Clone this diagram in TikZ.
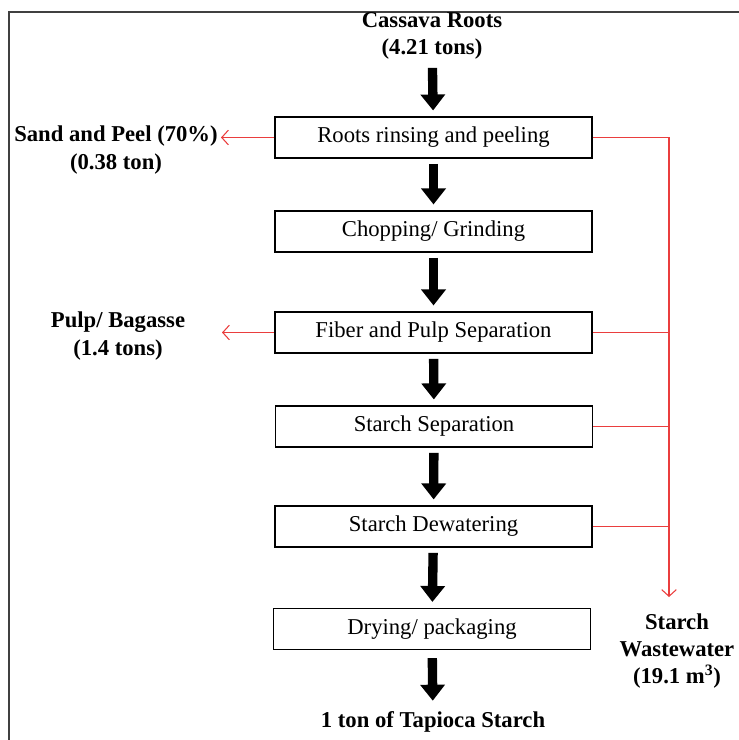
\documentclass[tikz,border=0pt]{standalone}
\usepackage{fontspec}
\setmainfont{Liberation Serif}
\usetikzlibrary{arrows.meta}

\definecolor{wasteRed}{RGB}{234,62,62}

\begin{document}
\begin{tikzpicture}[x=0.75pt,y=0.75pt,yscale=-1,xscale=1,
  stage/.style={draw, line width=1.1pt, minimum width=238pt, minimum height=30.5pt, inner sep=0pt, font=\fontsize{17}{20}\selectfont},
  outtext/.style={align=center, inner sep=0pt, font=\fontsize{17}{20.5}\selectfont\bfseries},
  flow/.style={line width=7pt, -{Triangle[width=18pt,length=12pt]}, shorten <=4pt, shorten >=4.5pt},
  waste/.style={wasteRed, line width=0.8pt},
  wastearrow/.style={waste, -{Straight Barb[length=5pt,width=11pt]}}
]
\useasboundingbox (0,0) rectangle (739,740);

%frame
\draw [line width=1.5pt, black!75] (9,740) -- (9,12) -- (739,12);

%process stages
\node [stage] (rinse) at (433.5,137.5) {Roots rinsing and peeling};
\node [stage] (chop) at (433.5,231.5) {Chopping/ Grinding};
\node [stage] (fiber) at (433.5,332.5) {Fiber and Pulp Separation};
\node [stage] (sep) at (434,426.5) {Starch Separation};
\node [stage] (dewater) at (433.5,526.5) {Starch Dewatering};
\node [stage] (dry) at (432,629) {Drying/ packaging};

%inputs and outputs
\node [outtext] (roots) at (432,36) {Cassava Roots\\(4.21 tons)};
\node [outtext] (starch) at (433,722) {1 ton of Tapioca Starch};
\node [outtext] (sand) at (116,150) {Sand and Peel (70\%)\\(0.38 ton)};
\node [outtext] (pulp) at (118,336) {Pulp/ Bagasse\\(1.4 tons)};
\node [outtext] (water) at (677,651) {Starch\\Wastewater\\(19.1 m\textsuperscript{3})};

\coordinate (sandend) at (221,137.5);
\coordinate (pulpend) at (222,332.5);
\coordinate (wtop) at (669,137.5);
\coordinate (wend) at (669,597);

%main flow
\draw [flow, shorten <=6pt] (roots) -- (rinse);
\draw [flow] (rinse) -- (chop);
\draw [flow] (chop) -- (fiber);
\draw [flow] (fiber) -- (sep);
\draw [flow] (sep) -- (dewater);
\draw [flow] (dewater) -- (dry);
\draw [flow, shorten <=6pt, shorten >=8pt] (dry) -- (starch);

%by-products
\draw [wastearrow] (rinse.west) -- (sandend);
\draw [wastearrow] (fiber.west) -- (pulpend);

%wastewater
\draw [wastearrow] (rinse.east) -- (wtop) -- (wend);
\draw [waste] (fiber.east) -- (fiber.east -| wtop);
\draw [waste] (sep.east) -- (sep.east -| wtop);
\draw [waste] (dewater.east) -- (dewater.east -| wtop);

\end{tikzpicture}
\end{document}
